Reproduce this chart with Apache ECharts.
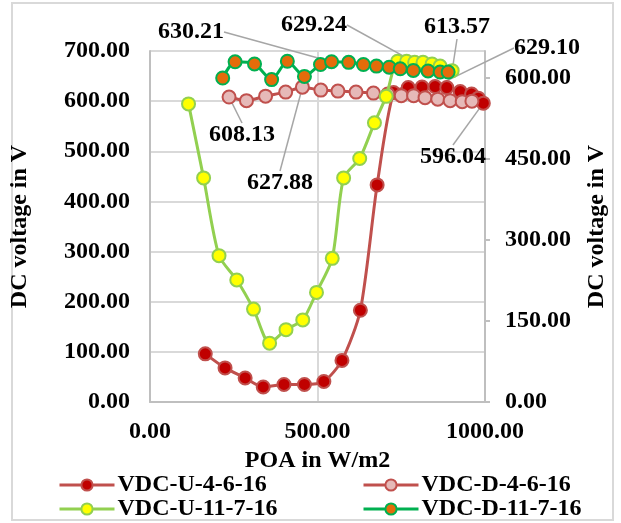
<!DOCTYPE html>
<html>
<head>
<meta charset="utf-8">
<script src="https://cdn.jsdelivr.net/npm/echarts@6/dist/echarts.min.js"></script>
<style>
html,body{margin:0;padding:0;background:#fff;}
#chart{width:621px;height:523px;}
</style>
</head>
<body>
<div id="chart"></div>
<script>
// ---- data ----
const seriesNames = ['VDC-U-4-6-16', 'VDC-D-4-6-16', 'VDC-U-11-7-16', 'VDC-D-11-7-16'];

const u46X = [165, 224, 284, 338, 400, 461, 519, 573, 628, 678, 727, 771, 812, 851, 886, 926, 960, 980, 995];
const u46Y = [96, 68, 48, 30, 35, 35, 41, 83, 183, 433, 617, 627, 628, 629.10, 627, 619, 614, 606, 596.04];

const d46X = [236, 288, 345, 405, 455, 510, 561, 615, 667, 710, 750, 787, 821, 859, 896, 932, 961];
const d46Y = [608.13, 601, 610, 618, 627.88, 622, 620, 618, 616, 614, 611, 611, 607, 604, 601, 599, 600];

const u117X = [115, 160, 206, 259, 309, 357, 406, 456, 497, 544, 578, 626, 670, 705, 739, 766, 790, 815, 842, 866, 902];
const u117Y = [552, 415, 271, 226, 172, 109, 134, 152, 203, 266, 415, 451, 517, 566, 631, 631, 629.24, 629, 626, 622, 613.57];

const d117X = [217, 254, 312, 363, 410, 461, 509, 542, 593, 637, 676, 714, 747, 786, 830, 866, 890];
const d117Y = [600, 630, 626, 597, 631, 603, 625, 630.21, 629, 625, 622, 620, 617, 614, 613, 611, 611];

const xTicks = [0, 500, 1000];
const leftTicks = [0, 100, 200, 300, 400, 500, 600, 700];
const rightTicks = [0, 150, 300, 450, 600];

// labelled points: [seriesIndex, dataIndex]
const labelledPoints = [[0, 13], [0, 18], [1, 0], [1, 4], [2, 16], [2, 20], [3, 7]];
// where each label is placed (layout only)
const labelPlacement = {
  '0_13': [547, 48],
  '0_18': [453, 157],
  '1_0': [242, 135],
  '1_4': [280, 183],
  '2_16': [314, 25],
  '2_20': [457, 27],
  '3_7': [191, 32]
};

const FONT = 'Liberation Serif';
const FS = 24;

function build(xs, ys, si) {
  return xs.map((x, i) => {
    const isLab = labelledPoints.some(p => p[0] === si && p[1] === i);
    const item = { value: [x, ys[i]] };
    if (isLab) item.label = { show: true };
    return item;
  });
}

const styles = [
  { line: '#c0504d', fill: '#c00000', border: '#c0504d', axis: 0 },
  { line: '#c0504d', fill: '#e6b9b8', border: '#c0504d', axis: 0 },
  { line: '#92d050', fill: '#ffff00', border: '#92d050', axis: 1 },
  { line: '#00b050', fill: '#e46c0a', border: '#00b050', axis: 1 }
];
const dataX = [u46X, d46X, u117X, d117X];
const dataY = [u46Y, d46Y, u117Y, d117Y];

const series = seriesNames.map((name, si) => ({
  name: name,
  type: 'line',
  yAxisIndex: styles[si].axis,
  data: build(dataX[si], dataY[si], si),
  smooth: 0.25,
  symbol: 'circle',
  symbolSize: 13,
  lineStyle: { color: styles[si].line, width: 3 },
  itemStyle: { color: styles[si].fill, borderColor: styles[si].border, borderWidth: 2 },
  label: {
    show: false,
    formatter: p => p.value[1].toFixed(2),
    fontFamily: FONT, fontWeight: 'bold', fontSize: FS, color: '#000'
  },
  labelLine: { show: true, lineStyle: { color: '#a6a6a6', width: 1.5 } },
  labelLayout: function (p) {
    const pos = labelPlacement[p.seriesIndex + '_' + p.dataIndex];
    if (!pos) return {};
    return { x: pos[0], y: pos[1], align: 'center', verticalAlign: 'middle' };
  },
  emphasis: { disabled: true },
  animation: false,
  z: 2 + si
}));

const textStyle = { fontFamily: FONT, fontWeight: 'bold', fontSize: FS, color: '#000' };

const chart = echarts.init(document.getElementById('chart'), null, { renderer: 'canvas' });
chart.setOption({
  animation: false,
  backgroundColor: '#fff',
  graphic: [{
    type: 'rect', silent: true,
    shape: { x: 12, y: 3, width: 601, height: 517 },
    style: { fill: null, stroke: '#d9d9d9', lineWidth: 2 }
  }],
  grid: { left: 149, right: 136, top: 51, bottom: 121 },
  xAxis: {
    type: 'value', min: xTicks[0], max: xTicks[xTicks.length - 1], interval: xTicks[1] - xTicks[0],
    name: 'POA in W/m2', nameLocation: 'middle', nameGap: 43, nameTextStyle: textStyle,
    axisLine: { show: true, lineStyle: { color: '#bfbfbf', width: 2 } },
    axisTick: { show: false },
    axisLabel: Object.assign({ margin: 18, formatter: v => v.toFixed(2) }, textStyle),
    splitLine: { show: true, lineStyle: { color: '#d9d9d9', width: 2 } }
  },
  yAxis: [{
    type: 'value', min: leftTicks[0], max: leftTicks[leftTicks.length - 1], interval: leftTicks[1] - leftTicks[0],
    name: 'DC voltage in V', nameLocation: 'middle', nameRotate: 90, nameGap: 118, nameTextStyle: textStyle,
    axisLine: { show: true, lineStyle: { color: '#bfbfbf', width: 2 } },
    axisTick: { show: false },
    axisLabel: Object.assign({ margin: 20, formatter: v => v.toFixed(2) }, textStyle),
    splitLine: { show: true, lineStyle: { color: '#d9d9d9', width: 2 } }
  }, {
    type: 'value', position: 'right', min: rightTicks[0], max: 650, interval: rightTicks[1] - rightTicks[0],
    name: 'DC voltage in V', nameLocation: 'middle', nameRotate: 90, nameGap: 100, nameTextStyle: textStyle,
    axisLine: { show: true, lineStyle: { color: '#bfbfbf', width: 2 } },
    axisTick: { show: true, inside: false, length: 5, lineStyle: { color: '#bfbfbf', width: 2 } },
    axisLabel: Object.assign({ margin: 20, showMaxLabel: false, formatter: v => v.toFixed(2) }, textStyle),
    splitLine: { show: false }
  }],
  legend: [{
    left: 58, top: 473, height: 50, orient: 'vertical', itemGap: 0, padding: 0,
    itemWidth: 55, itemHeight: 14,
    lineStyle: { width: 3 },
    data: [seriesNames[0], seriesNames[2]],
    textStyle: Object.assign({ lineHeight: 22, padding: [0, 0, 0, -2] }, textStyle)
  }, {
    left: 362, top: 473, height: 50, orient: 'vertical', itemGap: 0, padding: 0,
    itemWidth: 55, itemHeight: 14,
    lineStyle: { width: 3 },
    data: [seriesNames[1], seriesNames[3]],
    textStyle: Object.assign({ lineHeight: 22, padding: [0, 0, 0, -2] }, textStyle)
  }],
  series: series
});
</script>
</body>
</html>
